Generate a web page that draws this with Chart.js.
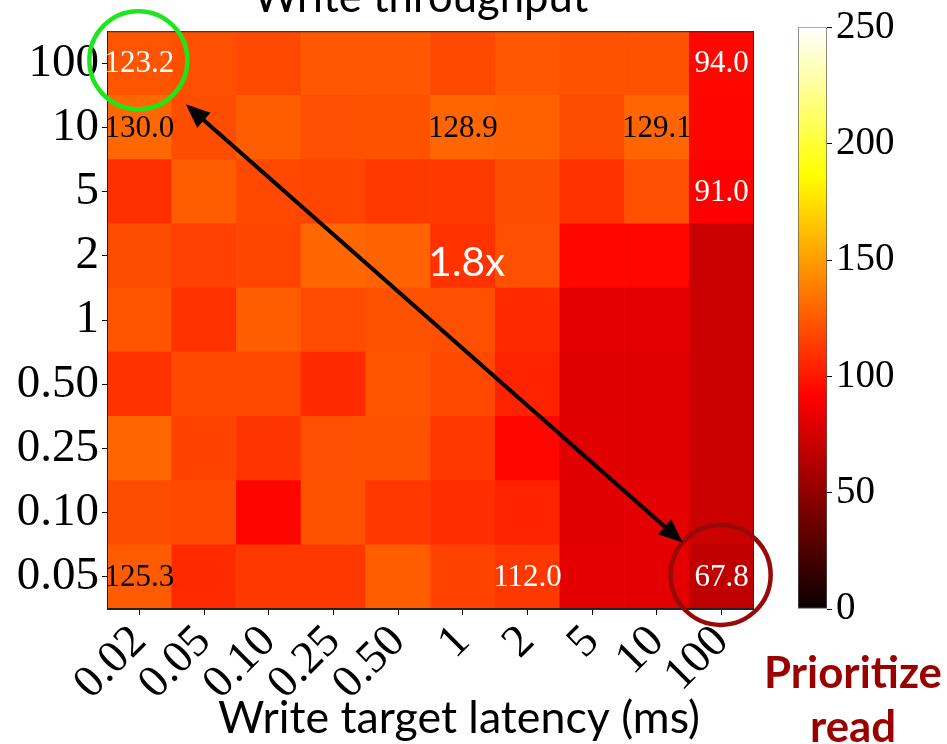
<!DOCTYPE html>
<html lang="en">
<head>
<meta charset="UTF-8">
<title>Write throughput</title>
<script src="https://cdn.jsdelivr.net/npm/chart.js"></script>
<style>
  body { margin: 0; background: #fff; }
  #wrap { position: relative; width: 947px; height: 744px; }
  #wrap canvas { position: absolute; top: 0; }
  .probe { position: absolute; left: -999px; top: 0; font-size: 20px; }
</style>
</head>
<body>
<div id="wrap">
  <canvas id="heat" width="947" height="744" style="left:0"></canvas>
  <canvas id="cbar" width="207" height="744" style="left:740px"></canvas>
</div>
<span class="probe" style="font-family:'Liberation Serif'">0.05</span>
<span class="probe" style="font-family:Lato">Write</span>
<span class="probe" style="font-family:Lato;font-weight:bold">read</span>
<script>
// write target latency (ms), one column each
const latencies = ['0.02', '0.05', '0.10', '0.25', '0.50', '1', '2', '5', '10', '100'];
// read target latency rows, top to bottom
const rowLabels = ['100', '10', '5', '2', '1', '0.50', '0.25', '0.10', '0.05'];

// write throughput per cell, one array per row
const tput100 = [123.2, 121, 118, 124, 124, 118, 124, 122, 122, 94.0];
const tput10  = [130.0, 120, 126, 121, 122, 128.9, 127, 120, 129.1, 93];
const tput5   = [109, 126, 118, 117, 113, 113, 120, 110, 121, 91.0];
const tput2   = [120, 115, 117, 130, 128, 110, 121, 94, 94, 72];
const tput1   = [123, 110, 126, 119, 122, 121, 107, 81, 81, 72];
const tput050 = [110, 118, 118, 107, 123, 118, 104, 79, 80, 72];
const tput025 = [130, 116, 111, 121, 122, 112, 94, 80, 80, 72];
const tput010 = [120, 118, 93, 122, 112, 108, 104, 80, 81, 72];
const tput005 = [125.3, 107, 112, 112, 126, 116, 112.0, 81, 81, 67.8];
const grid = [tput100, tput10, tput5, tput2, tput1, tput050, tput025, tput010, tput005];

// colour scale range and its ticks
const cbMin = 0, cbMax = 250, cbStep = 50;

// cells that get their value written on them: [row, col, text colour]
const shownCells = [[0, 0, '#fff'], [0, 9, '#fff'], [1, 0, '#000'], [1, 5, '#000'], [1, 8, '#000'],
                    [2, 9, '#fff'], [8, 0, '#000'], [8, 6, '#fff'], [8, 9, '#fff']];

// matplotlib "hot" colormap
function hotRGB(t) {
  t = Math.max(0, Math.min(1, t));
  const r = t < 0.365079 ? 0.0416 + 0.9584 * t / 0.365079 : 1;
  const g = t < 0.365079 ? 0 : t < 0.746032 ? (t - 0.365079) / 0.380953 : 1;
  const b = t < 0.746032 ? 0 : (t - 0.746032) / 0.253968;
  return 'rgb(' + Math.round(r * 255) + ',' + Math.round(g * 255) + ',' + Math.round(b * 255) + ')';
}
const hot = v => hotRGB((v - cbMin) / (cbMax - cbMin));

const serif = '"Liberation Serif", "Times New Roman", Times, serif';
const sans = 'Lato, "Open Sans", sans-serif';

const nRows = rowLabels.length;

function fitFont(ctx, text, weight, family, width) {
  ctx.font = weight + ' 100px ' + family;
  return 100 * width / ctx.measureText(text).width;
}

const annotate = {
  id: 'annotate',
  afterDraw(chart) {
    const ctx = chart.ctx, a = chart.chartArea;
    const xs = chart.scales.x, ys = chart.scales.y;
    const cell = (r, c) => ({ x: xs.getPixelForValue(c), y: ys.getPixelForValue(nRows - 1 - r + 0.5) });
    ctx.save();

    // frame
    ctx.strokeStyle = '#222';
    ctx.lineWidth = 1;
    ctx.strokeRect(a.left + 0.5, a.top + 0.5, a.right - a.left - 1, a.bottom - a.top - 1);

    // values on selected cells
    ctx.font = '31px ' + serif;
    ctx.textAlign = 'center';
    ctx.textBaseline = 'alphabetic';
    shownCells.forEach(([r, c, col]) => {
      const p = cell(r, c);
      ctx.fillStyle = col;
      ctx.fillText(grid[r][c].toFixed(1), p.x, p.y + 9);
    });

    // title, partly above the canvas
    let s = fitFont(ctx, 'Write throughput', '', sans, 335);
    ctx.font = s + 'px ' + sans;
    ctx.fillStyle = '#000';
    ctx.fillText('Write throughput', 421, 12);

    // x axis label
    s = fitFont(ctx, 'Write target latency (ms)', '', sans, 482);
    ctx.font = s + 'px ' + sans;
    ctx.fillText('Write target latency (ms)', 459, 733);

    // side note
    s = fitFont(ctx, 'Prioritize', 'bold', sans, 178);
    ctx.font = 'bold ' + s + 'px ' + sans;
    ctx.fillStyle = '#990000';
    ctx.fillText('Prioritize', 853, 688);
    ctx.fillText('read', 853, 742);

    // circles around the two compared cells
    const g = cell(0, 0), d = cell(nRows - 1, latencies.length - 1);
    ctx.lineWidth = 4.5;
    ctx.strokeStyle = '#1ee61e';
    ctx.beginPath(); ctx.arc(g.x - 1, g.y - 3, 49, 0, Math.PI * 2); ctx.stroke();
    ctx.strokeStyle = '#960a0a';
    ctx.beginPath(); ctx.arc(d.x - 1, d.y - 2, 50, 0, Math.PI * 2); ctx.stroke();

    // double headed arrow between them
    const dx = d.x - g.x, dy = d.y - g.y, len = Math.hypot(dx, dy);
    const ux = dx / len, uy = dy / len;
    const p0 = { x: g.x + ux * 62, y: g.y + uy * 62 };
    const p1 = { x: d.x - ux * 52, y: d.y - uy * 52 };
    const head = 24, hw = 10;
    ctx.strokeStyle = '#000';
    ctx.fillStyle = '#000';
    ctx.lineWidth = 4;
    ctx.beginPath();
    ctx.moveTo(p0.x + ux * head * 0.8, p0.y + uy * head * 0.8);
    ctx.lineTo(p1.x - ux * head * 0.8, p1.y - uy * head * 0.8);
    ctx.stroke();
    [[p0, 1], [p1, -1]].forEach(([p, sgn]) => {
      const bx = p.x + sgn * ux * head, by = p.y + sgn * uy * head;
      ctx.beginPath();
      ctx.moveTo(p.x, p.y);
      ctx.lineTo(bx - uy * hw, by + ux * hw);
      ctx.lineTo(bx + uy * hw, by - ux * hw);
      ctx.closePath();
      ctx.fill();
    });

    // speedup note
    const m = cell(3, 5);
    s = fitFont(ctx, '1.8x', '', sans, 77);
    ctx.font = s + 'px ' + sans;
    ctx.fillStyle = '#fff';
    ctx.fillText('1.8x', m.x + 4, m.y + 20);

    ctx.restore();
  }
};

// colour bar fill, same stops as the colormap
function barGradient(chart) {
  const a = chart.chartArea;
  if (!a) return null;
  const y = chart.scales.y;
  const grad = chart.ctx.createLinearGradient(0, y.getPixelForValue(cbMin), 0, y.getPixelForValue(cbMax));
  [0, 0.365079, 0.746032, 1].forEach(t => grad.addColorStop(t, hotRGB(t)));
  return grad;
}

function drawCharts() {
  Chart.defaults.font.family = serif;
  Chart.defaults.color = '#000';

  const datasets = [];
  // stack from the bottom row upwards, each cell one unit tall
  for (let k = 0; k < nRows; k++) {
    const r = nRows - 1 - k;
    datasets.push({
      data: latencies.map(() => 1),
      backgroundColor: grid[r].map(hot),
      borderWidth: 0,
      barPercentage: 1,
      categoryPercentage: 1
    });
  }

  new Chart(document.getElementById('heat'), {
    type: 'bar',
    data: { labels: latencies, datasets: datasets },
    options: {
      responsive: false,
      animation: false,
      layout: { padding: { top: 24, right: 193, left: 0, bottom: 0 } },
      plugins: { legend: { display: false }, tooltip: { enabled: false } },
      scales: {
        x: {
          stacked: true,
          grid: { offset: false, drawOnChartArea: false, tickLength: 6, color: '#000' },
          border: { color: '#222' },
          ticks: { autoSkip: false, minRotation: 45, maxRotation: 45, font: { family: serif, size: 46 }, padding: 0 },
          afterFit: sc => { sc.height = 135; }
        },
        y: {
          stacked: true,
          min: 0,
          max: nRows,
          grid: { drawOnChartArea: false, tickLength: 5, color: '#000' },
          border: { color: '#222' },
          ticks: { font: { family: serif, size: 47 }, padding: 3, callback: v => rowLabels[nRows - 1 - Math.floor(v)] },
          afterBuildTicks: sc => { sc.ticks = rowLabels.map((_, i) => ({ value: i + 0.5 })); },
          afterFit: sc => { sc.width = 107; }
        }
      }
    },
    plugins: [annotate]
  });

  new Chart(document.getElementById('cbar'), {
    type: 'bar',
    data: {
      labels: [''],
      datasets: [{
        data: [[cbMin, cbMax]],
        backgroundColor: c => barGradient(c.chart),
        borderColor: '#555',
        borderWidth: 1,
        borderSkipped: false,
        barPercentage: 1,
        categoryPercentage: 1
      }]
    },
    options: {
      responsive: false,
      animation: false,
      layout: { padding: { left: 58, top: 24, bottom: 135, right: 0 } },
      plugins: { legend: { display: false }, tooltip: { enabled: false } },
      scales: {
        x: { display: false },
        y: {
          position: 'right',
          min: cbMin,
          max: cbMax,
          ticks: { stepSize: cbStep, font: { family: serif, size: 39 }, padding: 4 },
          grid: { drawOnChartArea: false, tickLength: 5, color: '#000' },
          border: { display: false },
          afterFit: sc => { sc.width = 120; }
        }
      }
    }
  });
}

Promise.all([
  document.fonts.load('30px "Liberation Serif"'),
  document.fonts.load('30px Lato'),
  document.fonts.load('bold 30px Lato')
]).catch(() => {}).then(drawCharts);
</script>
</body>
</html>
